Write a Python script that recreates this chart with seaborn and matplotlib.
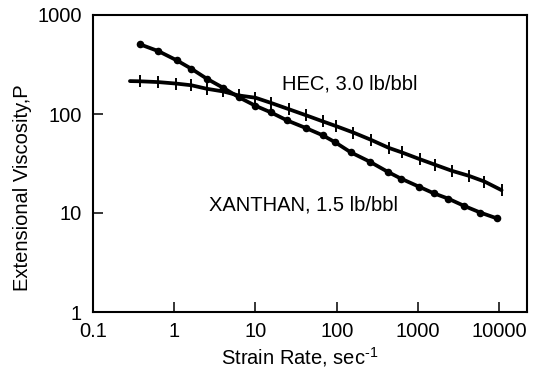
import matplotlib
matplotlib.use("Agg")
import matplotlib.pyplot as plt
import seaborn as sns
import pandas as pd

# Data
strain_xanthan = [0.38, 0.64, 1.07, 1.63, 2.5, 4.0, 6.3, 10, 15.4, 24.6, 42, 67, 95,
                  149, 255, 427, 615, 1020, 1570, 2340, 3700, 5860, 9470]
visc_xanthan = [505, 431, 349, 286, 228, 184, 147, 121, 104, 86, 72, 61, 52,
                41, 33, 26, 22.3, 18.5, 15.8, 14.0, 11.8, 10.1, 8.8]

strain_hec = [0.285, 0.38, 0.64, 1.05, 1.63, 2.5, 4.0, 6.2, 10, 15.7, 25.6, 42, 68, 98,
              160, 262, 440, 630, 1050, 1630, 2610, 4200, 6580, 10700]
visc_hec = [215, 214, 210, 203, 195, 180, 169, 154, 146, 129, 112, 97, 84, 75.5,
            65, 55, 45.4, 41, 35, 30.7, 26.7, 23.8, 20.8, 17.0]

x_ticks = [0.1, 1, 10, 100, 1000, 10000]
x_ticklabels = ["0.1", "1", "10", "100", "1000", "10000"]
y_ticks = [1, 10, 100, 1000]
y_ticklabels = ["1", "10", "100", "1000"]

label_hec = "HEC, 3.0 lb/bbl"
label_xanthan = "XANTHAN, 1.5 lb/bbl"

sns.set_theme(style="ticks")
plt.rcParams["font.family"] = ["Liberation Sans", "DejaVu Sans"]
plt.rcParams["mathtext.fontset"] = "custom"
plt.rcParams["mathtext.rm"] = "Liberation Sans"
plt.rcParams["mathtext.it"] = "Liberation Sans"
plt.rcParams["axes.unicode_minus"] = False

df_x = pd.DataFrame({"strain": strain_xanthan, "visc": visc_xanthan})
df_h = pd.DataFrame({"strain": strain_hec, "visc": visc_hec})
df_h_marks = df_h.iloc[1:]

fig = plt.figure(figsize=(5.36, 3.71), dpi=100)
ax = fig.add_axes([93 / 536, 59 / 371, 434 / 536, 297 / 371])

# lines
sns.lineplot(data=df_x, x="strain", y="visc", ax=ax, color="black", lw=2.7,
             sort=False, estimator=None)
sns.lineplot(data=df_h, x="strain", y="visc", ax=ax, color="black", lw=2.7,
             sort=False, estimator=None)
# markers
sns.scatterplot(data=df_x, x="strain", y="visc", ax=ax, color="black",
                marker="o", s=30, linewidth=0, zorder=3)
ax.plot(df_h_marks["strain"], df_h_marks["visc"], linestyle="none", marker="|",
        markersize=9, markeredgewidth=1.4, color="black", zorder=3)

ax.set_xscale("log")
ax.set_yscale("log")
ax.set_xlim(0.1, 22000)
ax.set_ylim(1, 1000)
ax.set_xticks(x_ticks)
ax.set_xticklabels(x_ticklabels)
ax.set_yticks(y_ticks)
ax.set_yticklabels(y_ticklabels)
ax.minorticks_off()

for s in ax.spines.values():
    s.set_visible(True)
    s.set_linewidth(1.5)
    s.set_color("black")

ax.tick_params(axis="both", which="major", direction="in", length=7, width=1.1,
               color="black", labelsize=14.5, labelcolor="black")
ax.tick_params(axis="x", pad=7)
ax.tick_params(axis="y", pad=8)

ax.set_xlabel(r"Strain Rate, sec$^{\text{-1}}$", fontsize=14.5, color="black")
ax.xaxis.set_label_coords(0.477, -0.112)
ax.set_ylabel("Extensional Viscosity,P", fontsize=14.5, color="black")
ax.yaxis.set_label_coords(-0.14, 0.42)

ax.text(21.3, 175, label_hec, fontsize=14.5, ha="left", va="baseline", color="black")
ax.text(2.71, 10.6, label_xanthan, fontsize=14.5, ha="left", va="baseline", color="black")

fig.savefig("out.png", dpi=100)
